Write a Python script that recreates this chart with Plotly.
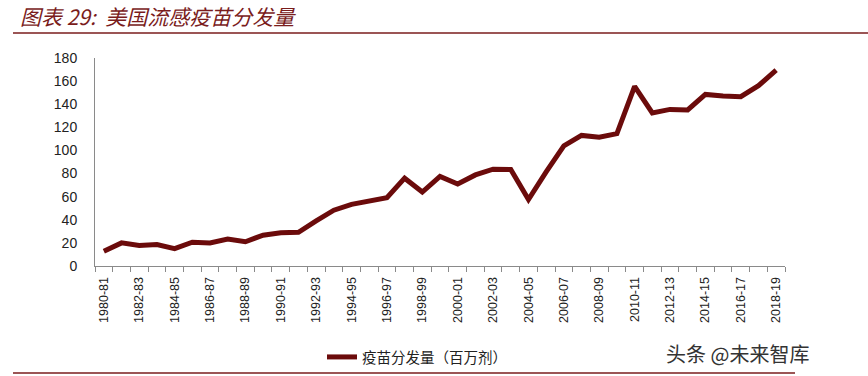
import plotly.graph_objects as go

seasons = [f"{y}-{str(y + 1)[-2:]}" for y in range(1980, 2019)]
doses = [12.7, 20, 17.7, 18.5, 15, 20.6, 20, 23.3, 21, 26.7,
         28.8, 29.2, 39, 48.3, 53.3, 56.3, 59.2, 76, 64, 77.5,
         71, 78.8, 83.8, 83.5, 57.5, 81.5, 104, 113, 111.5, 114.5,
         155.5, 132.5, 135.5, 135, 148.5, 147.2, 146.5, 156, 169.5]
tick_text = [s if i % 2 == 0 else "" for i, s in enumerate(seasons)]
series_name = "疫苗分发量（百万剂）"

LINE = "#6b0b0b"
RED = "#7a1c1c"
W, H = 868, 376
L, R, T, B = 95, 83, 58, 110
pw, ph = W - L - R, H - T - B

def px(x):
    return (x - L) / pw

def py(y):
    return (H - B - y) / ph

fig = go.Figure()
fig.add_trace(go.Scatter(x=seasons, y=doses, mode="lines", name=series_name,
                         line=dict(color=LINE, width=5)))

fig.update_layout(
    width=W, height=H, margin=dict(l=L, r=R, t=T, b=B, autoexpand=False),
    paper_bgcolor="white", plot_bgcolor="white",
    font=dict(family="Liberation Sans, Arial", color="#222"),
    title=dict(text="<i>图表 29:  美国流感疫苗分发量</i>", x=20 / W, xref="container",
               xanchor="left", y=1 - 18 / H, yref="container", yanchor="middle",
               font=dict(family="Noto Sans CJK SC", size=21, color=RED)),
    showlegend=True,
    legend=dict(orientation="h", x=px(322), y=py(357), xanchor="left", yanchor="middle",
                font=dict(family="Noto Sans CJK SC", size=14.5, color="#222"),
                bgcolor="rgba(0,0,0,0)"),
    xaxis=dict(type="category", tickvals=seasons, ticktext=tick_text, tickangle=-90,
               tickson="boundaries", ticks="outside", ticklen=5, tickcolor="#8a8a8a",
               ticklabelstandoff=5,
               showline=True, linecolor="#8a8a8a", linewidth=1, showgrid=False,
               tickfont=dict(size=12.5, color="#222"), range=[-0.5, len(seasons) - 0.5]),
    yaxis=dict(range=[0, 180], dtick=20, showgrid=False, zeroline=False,
               showline=True, linecolor="#8a8a8a", linewidth=1, ticks="",
               ticklabelstandoff=14, tickfont=dict(size=14, color="#222")),
    shapes=[
        dict(type="line", xref="paper", yref="paper", x0=px(13), x1=px(868), y0=py(33), y1=py(33),
             line=dict(color=RED, width=1.5)),
        dict(type="line", xref="paper", yref="paper", x0=px(13), x1=px(795), y0=py(373), y1=py(373),
             line=dict(color=RED, width=1.5)),
    ],
    annotations=[
        dict(text="头条 @未来智库", xref="paper", yref="paper", x=px(664), y=py(353),
             xanchor="left", yanchor="middle", showarrow=False,
             font=dict(family="Noto Sans CJK SC", size=20, color="#333")),
    ],
)

fig.write_html("out.html")
